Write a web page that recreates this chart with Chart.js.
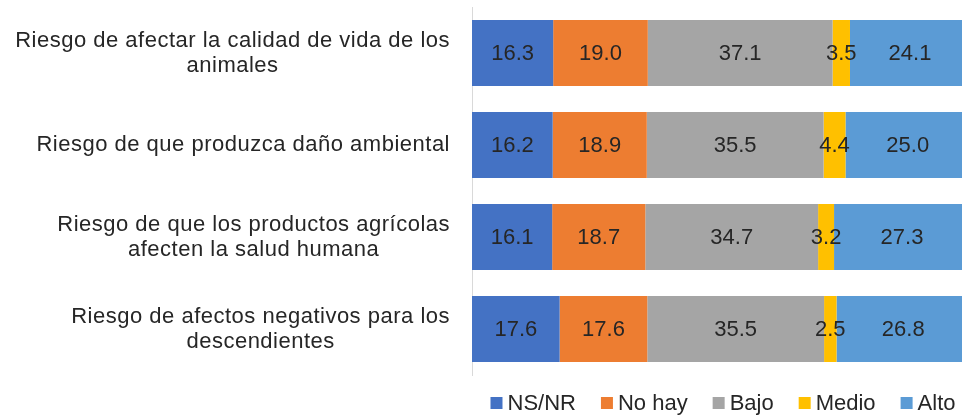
<!DOCTYPE html>
<html>
<head>
<meta charset="utf-8">
<script src="https://cdn.jsdelivr.net/npm/chart.js@4/dist/chart.umd.min.js"></script>
<style>
    html, body { margin: 0; padding: 0; background: #ffffff; overflow: hidden; }
    #wrap { width: 971px; height: 420px; }
</style>
</head>
<body>
<div id="wrap"><canvas id="chart-risk" width="971" height="420"></canvas></div>
<script>
// ── Data ────────────────────────────────────────────────────────────────────

const categories = [
    ['Riesgo de afectar la calidad de vida de los', 'animales'],
    ['Riesgo de que produzca daño ambiental'],
    ['Riesgo de que los productos agrícolas', 'afecten la salud humana'],
    ['Riesgo de afectos negativos para los', 'descendientes'],
];

const nsnr = [16.3, 16.2, 16.1, 17.6];
const noHay = [19.0, 18.9, 18.7, 17.6];
const bajo = [37.1, 35.5, 34.7, 35.5];
const medio = [3.5, 4.4, 3.2, 2.5];
const alto = [24.1, 25.0, 27.3, 26.8];

const seriesNames = ['NS/NR', 'No hay', 'Bajo', 'Medio', 'Alto'];

// ── Styling ─────────────────────────────────────────────────────────────────

const FONT = '"Liberation Sans", Arial, sans-serif';
const TEXT = '#262626';
const colors = ['#4472C4', '#ED7D31', '#A5A5A5', '#FFC000', '#5B9BD5'];

// ── Plugins ─────────────────────────────────────────────────────────────────

// category labels: block right-aligned to the axis, lines centred inside the block
const categoryLabels = {
    id: 'categoryLabels',
    afterDraw(chart) {
        const { ctx } = chart;
        const y = chart.scales.y;
        const right = chart.chartArea.left - 22;
        const lineH = 25;
        ctx.save();
        ctx.font = `22px ${FONT}`;
        ctx.letterSpacing = '0.5px';
        ctx.fillStyle = TEXT;
        ctx.textAlign = 'center';
        ctx.textBaseline = 'middle';
        categories.forEach((lines, i) => {
            const cy = y.getPixelForTick(i);
            const blockW = Math.max(...lines.map((l) => ctx.measureText(l).width));
            const cx = right - blockW / 2;
            const top = cy - ((lines.length - 1) * lineH) / 2;
            lines.forEach((l, j) => ctx.fillText(l, cx, top + j * lineH));
        });
        ctx.restore();
    },
};

// value inside every segment
const segmentValues = {
    id: 'segmentValues',
    afterDatasetsDraw(chart) {
        const { ctx } = chart;
        ctx.save();
        ctx.font = `22px ${FONT}`;
        ctx.fillStyle = TEXT;
        ctx.textAlign = 'center';
        ctx.textBaseline = 'middle';
        chart.data.datasets.forEach((ds, di) => {
            chart.getDatasetMeta(di).data.forEach((bar, i) => {
                const p = bar.getProps(['x', 'y', 'base'], true);
                ctx.fillText(ds.data[i].toFixed(1), (p.x + p.base) / 2, p.y + 1);
            });
        });
        ctx.restore();
    },
};

// compact legend under the plot (small square, tight gap to the text)
const bottomLegend = {
    id: 'bottomLegend',
    afterDraw(chart) {
        const { ctx, chartArea } = chart;
        const box = 12, gap = 5, itemGap = 25;
        const cy = chartArea.bottom + 28;
        ctx.save();
        ctx.font = `22px ${FONT}`;
        ctx.textBaseline = 'middle';
        ctx.textAlign = 'left';
        const items = chart.data.datasets.map((ds) => ({
            text: ds.label,
            color: ds.backgroundColor,
            w: box + gap + ctx.measureText(ds.label).width,
        }));
        const total = items.reduce((s, it) => s + it.w, 0) + itemGap * (items.length - 1);
        let x = (chartArea.left + chartArea.right) / 2 + 2 - total / 2;
        items.forEach((it) => {
            ctx.fillStyle = it.color;
            ctx.fillRect(x, cy - box / 2, box, box);
            ctx.fillStyle = TEXT;
            ctx.fillText(it.text, x + box + gap, cy + 1);
            x += it.w + itemGap;
        });
        ctx.restore();
    },
};

// ── Chart ───────────────────────────────────────────────────────────────────

const seriesData = [nsnr, noHay, bajo, medio, alto];

new Chart(document.getElementById('chart-risk'), {
    type: 'bar',
    data: {
        labels: categories.map((c) => c.join(' ')),
        datasets: seriesNames.map((name, i) => ({
            label: name,
            data: seriesData[i],
            backgroundColor: colors[i],
            borderWidth: 0,
            barPercentage: 0.72,
            categoryPercentage: 1,
        })),
    },
    options: {
        indexAxis: 'y',
        responsive: false,
        animation: false,
        devicePixelRatio: 1,
        layout: { padding: { top: 7, right: 1, bottom: 45, left: 0 } },
        plugins: {
            legend: { display: false },
            tooltip: { enabled: false },
        },
        scales: {
            x: {
                stacked: true,
                min: 0,
                max: 100,
                display: false,
            },
            y: {
                stacked: true,
                grid: { display: false },
                border: { display: true, color: '#D9D9D9', width: 1 },
                ticks: { display: false },
                afterFit: (scale) => { scale.width = 472; },
            },
        },
    },
    plugins: [categoryLabels, segmentValues, bottomLegend],
});
</script>
</body>
</html>
